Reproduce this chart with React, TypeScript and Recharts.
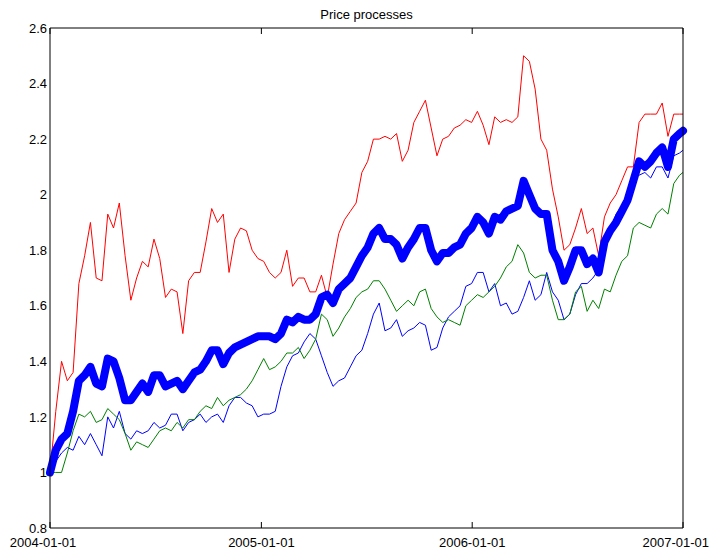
import { LineChart, Line, XAxis, YAxis } from "recharts"

// days since 2004-01-01
const days = [
  0, 10, 20, 30, 40, 50, 60, 70, 80, 90,
  100, 110, 120, 130, 140, 150, 160, 170, 180, 190,
  200, 210, 220, 230, 240, 250, 260, 270, 280, 290,
  300, 310, 320, 330, 340, 350, 360, 370, 380, 390,
  400, 410, 420, 430, 440, 450, 460, 470, 480, 490,
  500, 510, 520, 530, 540, 550, 560, 570, 580, 590,
  600, 610, 620, 630, 640, 650, 660, 670, 680, 690,
  700, 710, 720, 730, 740, 750, 760, 770, 780, 790,
  800, 810, 820, 830, 840, 850, 860, 870, 880, 890,
  900, 910, 920, 930, 940, 950, 960, 970, 980, 990,
  1000, 1010, 1020, 1030, 1040, 1050, 1060, 1070, 1080, 1090, 1096,
]

const assetBlue = [
  1.00, 1.04, 1.07, 1.09, 1.08, 1.13, 1.10, 1.14, 1.10, 1.06,
  1.20, 1.16, 1.22, 1.14, 1.12, 1.15, 1.14, 1.15, 1.18, 1.16,
  1.17, 1.21, 1.21, 1.15, 1.18, 1.19, 1.21, 1.18, 1.20, 1.21,
  1.18, 1.24, 1.27, 1.27, 1.25, 1.24, 1.20, 1.21, 1.21, 1.22,
  1.31, 1.38, 1.42, 1.43, 1.47, 1.50, 1.48, 1.42, 1.36, 1.31,
  1.33, 1.34, 1.38, 1.42, 1.44, 1.50, 1.57, 1.61, 1.51, 1.52,
  1.55, 1.49, 1.51, 1.52, 1.54, 1.53, 1.44, 1.45, 1.52, 1.56,
  1.58, 1.60, 1.67, 1.68, 1.72, 1.72, 1.65, 1.68, 1.60, 1.61,
  1.57, 1.58, 1.63, 1.69, 1.62, 1.64, 1.72, 1.65, 1.62, 1.55,
  1.57, 1.64, 1.68, 1.68, 1.70, 1.73, 1.81, 1.87, 1.93, 1.96,
  2.00, 2.06, 2.07, 2.08, 2.06, 2.10, 2.10, 2.06, 2.14, 2.15, 2.16,
]

const assetGreen = [
  1.00, 1.00, 1.00, 1.07, 1.15, 1.21, 1.20, 1.22, 1.18, 1.19,
  1.23, 1.21, 1.19, 1.14, 1.08, 1.11, 1.10, 1.09, 1.12, 1.15,
  1.16, 1.15, 1.18, 1.16, 1.19, 1.19, 1.22, 1.24, 1.23, 1.27,
  1.24, 1.26, 1.27, 1.28, 1.30, 1.33, 1.37, 1.41, 1.37, 1.38,
  1.40, 1.43, 1.43, 1.45, 1.41, 1.44, 1.48, 1.57, 1.55, 1.49,
  1.52, 1.56, 1.59, 1.63, 1.65, 1.66, 1.69, 1.69, 1.66, 1.62,
  1.58, 1.60, 1.62, 1.60, 1.65, 1.66, 1.59, 1.56, 1.54, 1.55,
  1.54, 1.53, 1.60, 1.62, 1.64, 1.63, 1.65, 1.67, 1.70, 1.74,
  1.76, 1.82, 1.79, 1.72, 1.70, 1.71, 1.71, 1.62, 1.55, 1.55,
  1.57, 1.65, 1.67, 1.58, 1.62, 1.59, 1.66, 1.65, 1.71, 1.76,
  1.78, 1.88, 1.90, 1.89, 1.88, 1.93, 1.95, 1.93, 2.04, 2.07, 2.08,
]

const assetRed = [
  1.00, 1.22, 1.40, 1.33, 1.36, 1.68, 1.78, 1.90, 1.70, 1.69,
  1.93, 1.88, 1.97, 1.78, 1.62, 1.70, 1.76, 1.74, 1.84, 1.77,
  1.63, 1.66, 1.65, 1.50, 1.69, 1.72, 1.72, 1.83, 1.95, 1.90,
  1.93, 1.72, 1.84, 1.88, 1.87, 1.80, 1.77, 1.76, 1.72, 1.70,
  1.72, 1.80, 1.67, 1.70, 1.70, 1.65, 1.65, 1.71, 1.63, 1.75,
  1.86, 1.91, 1.94, 1.97, 2.08, 2.12, 2.20, 2.20, 2.21, 2.20,
  2.22, 2.12, 2.16, 2.26, 2.30, 2.34, 2.24, 2.14, 2.20, 2.21,
  2.24, 2.25, 2.27, 2.26, 2.30, 2.25, 2.18, 2.28, 2.26, 2.27,
  2.26, 2.28, 2.50, 2.48, 2.38, 2.20, 2.16, 2.02, 1.92, 1.80,
  1.82, 1.88, 1.95, 1.86, 1.88, 1.78, 1.92, 1.97, 2.00, 2.05,
  2.10, 2.10, 2.26, 2.29, 2.29, 2.29, 2.33, 2.21, 2.29, 2.29, 2.29,
]

const portfolio = [
  1.00, 1.08, 1.12, 1.14, 1.22, 1.33, 1.35, 1.38, 1.32, 1.31,
  1.41, 1.40, 1.34, 1.26, 1.26, 1.29, 1.32, 1.29, 1.35, 1.35,
  1.31, 1.32, 1.33, 1.30, 1.33, 1.36, 1.37, 1.40, 1.44, 1.44,
  1.39, 1.43, 1.45, 1.46, 1.47, 1.48, 1.49, 1.49, 1.49, 1.48,
  1.50, 1.55, 1.54, 1.56, 1.55, 1.55, 1.57, 1.63, 1.64, 1.61,
  1.66, 1.68, 1.70, 1.74, 1.78, 1.81, 1.86, 1.88, 1.84, 1.84,
  1.82, 1.77, 1.81, 1.84, 1.88, 1.88, 1.80, 1.76, 1.79, 1.79,
  1.81, 1.82, 1.86, 1.88, 1.92, 1.90, 1.86, 1.92, 1.91, 1.94,
  1.95, 1.96, 2.05, 2.00, 1.95, 1.93, 1.93, 1.80, 1.76, 1.69,
  1.74, 1.80, 1.80, 1.75, 1.77, 1.72, 1.83, 1.87, 1.90, 1.94,
  1.98, 2.05, 2.12, 2.10, 2.12, 2.15, 2.17, 2.10, 2.20, 2.22, 2.23,
]

const xTicks = [0, 366, 731, 1096]
const xTickLabels = ["2004-01-01", "2005-01-01", "2006-01-01", "2007-01-01"]
const yTicks = [0.8, 1, 1.2, 1.4, 1.6, 1.8, 2, 2.2, 2.4, 2.6]

const font = "'Liberation Sans', Arial, Helvetica, sans-serif"

const data = days.map((d, i) => ({
  day: d,
  blue: assetBlue[i],
  green: assetGreen[i],
  red: assetRed[i],
  port: portfolio[i],
}))

function DateTick(props: any) {
  const { x, y, payload, index } = props
  const idx = xTicks.indexOf(payload.value)
  let tx = x
  let anchor = "middle"
  if (index === 0) tx = x - 7
  if (idx === xTicks.length - 1) {
    tx = 709
    anchor = "end"
  }
  return (
    <text x={tx} y={y} dy="0.71em" textAnchor={anchor} fontSize={13} fontFamily={font} fill="#000">
      {xTickLabels[idx]}
    </text>
  )
}

const blank = () => ""

export default function App() {
  return (
    <div style={{ position: "absolute", left: 0, top: 0, width: 711, height: 551, background: "#fff" }}>
      <div
        style={{
          position: "absolute",
          left: 50,
          width: 633,
          top: 8,
          textAlign: "center",
          fontFamily: font,
          fontSize: 13,
          lineHeight: "13px",
          color: "#000",
        }}
      >
        Price processes
      </div>
      <LineChart width={711} height={551} data={data} margin={{ top: 28, right: 28, left: 0, bottom: 0 }}>
        <XAxis
          xAxisId="b"
          dataKey="day"
          type="number"
          domain={[0, 1096]}
          ticks={xTicks}
          interval={0}
          height={23}
          tickLine={false}
          tickSize={0}
          tickMargin={10}
          axisLine={{ stroke: "#000" }}
          tick={<DateTick />}
        />
        <XAxis
          xAxisId="bm"
          dataKey="day"
          type="number"
          domain={[0, 1096]}
          ticks={xTicks}
          interval={0}
          mirror
          axisLine={false}
          tickLine={{ stroke: "#000" }}
          tickSize={6}
          tickFormatter={blank}
        />
        <XAxis
          xAxisId="t"
          orientation="top"
          dataKey="day"
          type="number"
          domain={[0, 1096]}
          ticks={xTicks}
          interval={0}
          mirror
          axisLine={{ stroke: "#000" }}
          tickLine={{ stroke: "#000" }}
          tickSize={6}
          tickFormatter={blank}
        />
        <YAxis
          yAxisId="l"
          domain={[0.8, 2.6]}
          ticks={yTicks}
          interval={0}
          width={50}
          tickLine={false}
          tickSize={0}
          tickMargin={3}
          axisLine={{ stroke: "#000" }}
          tick={{ fontSize: 13, fontFamily: font, fill: "#000" }}
          tickFormatter={(v: number) => String(v)}
        />
        <YAxis
          yAxisId="lm"
          domain={[0.8, 2.6]}
          ticks={yTicks}
          interval={0}
          mirror
          axisLine={false}
          tickLine={{ stroke: "#000" }}
          tickSize={6}
          tickFormatter={blank}
        />
        <YAxis
          yAxisId="r"
          orientation="right"
          domain={[0.8, 2.6]}
          ticks={yTicks}
          interval={0}
          mirror
          axisLine={{ stroke: "#000" }}
          tickLine={{ stroke: "#000" }}
          tickSize={6}
          tickFormatter={blank}
        />
        <Line xAxisId="b" yAxisId="l" dataKey="blue" stroke="#0000ff" strokeWidth={1} dot={false} isAnimationActive={false} />
        <Line xAxisId="b" yAxisId="l" dataKey="green" stroke="#008000" strokeWidth={1} dot={false} isAnimationActive={false} />
        <Line xAxisId="b" yAxisId="l" dataKey="red" stroke="#ff0000" strokeWidth={1} dot={false} isAnimationActive={false} />
        <Line
          xAxisId="b"
          yAxisId="l"
          dataKey="port"
          stroke="#0000ff"
          strokeWidth={8}
          strokeLinejoin="round"
          strokeLinecap="round"
          dot={false}
          isAnimationActive={false}
        />
      </LineChart>
    </div>
  )
}
